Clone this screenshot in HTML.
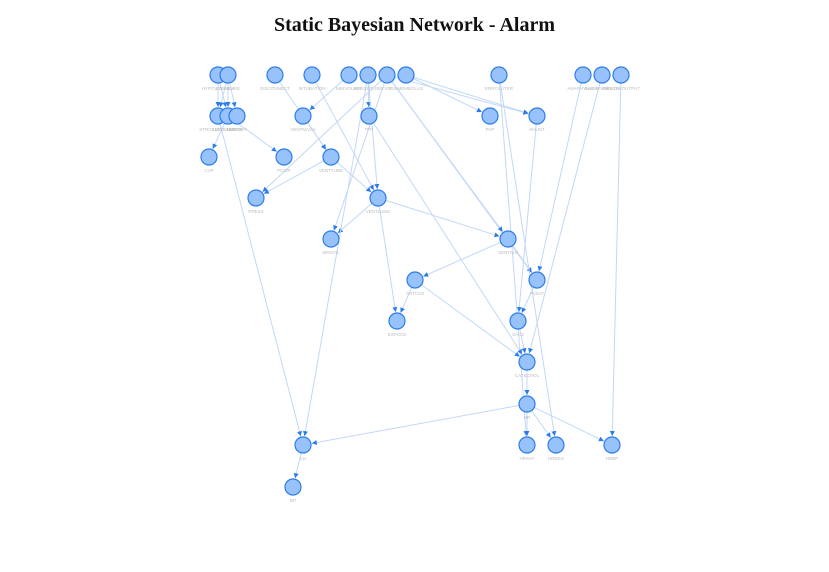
<!DOCTYPE html>
<html><head><meta charset="utf-8"><style>
body{margin:0;background:#fff;width:829px;height:572px;overflow:hidden}
h1{position:absolute;left:0;width:829px;top:14px;margin:0;text-align:center;font:bold 20px "Liberation Serif",serif;color:#111}
svg{position:absolute;left:0;top:0}
</style></head><body>
<h1>Static Bayesian Network - Alarm</h1>
<svg id="g" width="829" height="572">
<defs><marker id="ar" viewBox="0 0 10 10" refX="10" refY="5" markerWidth="5" markerHeight="5" orient="auto"><path d="M0,0L10,5L0,10z" fill="#2b7ce9"/></marker></defs>
</svg>
<script>
const nodeNames=["HYPOVOLEMIA","LVFAILURE","DISCONNECT","INTUBATION","MINVOLSET","KINKEDTUBE","FIO2","PULMEMBOLUS","ERRCAUTER","ANAPHYLAXIS","INSUFFANESTH","ERRLOWOUTPUT","STROKEVOLUME","LVEDVOLUME","HISTORY","VENTMACH","TPR","PAP","SHUNT","CVP","PCWP","VENTTUBE","PRESS","VENTLUNG","MINVOL","VENTALV","ARTCO2","PVSAT","EXPCO2","SAO2","CATECHOL","HR","CO","HRSAT","HREKG","HRBP","BP"];
const nodeX=[218,228,275,312,349,368,387,406,499,583,602,621,218,228,237,303,369,490,537,209,284,331,256,378,331,508,415,537,397,518,527,527,303,527,556,612,293];
const nodeY=[75,75,75,75,75,75,75,75,75,75,75,75,116,116,116,116,116,116,116,157,157,157,198,198,239,239,280,280,321,321,362,404,445,445,445,445,487];
const edgeFrom=["HYPOVOLEMIA","HYPOVOLEMIA","LVFAILURE","LVFAILURE","LVFAILURE","LVEDVOLUME","LVEDVOLUME","STROKEVOLUME","DISCONNECT","INTUBATION","MINVOLSET","VENTMACH","KINKEDTUBE","FIO2","FIO2","VENTTUBE","VENTTUBE","VENTLUNG","VENTLUNG","VENTLUNG","FIO2","VENTALV","VENTALV","ARTCO2","ARTCO2","PVSAT","SHUNT","KINKEDTUBE","KINKEDTUBE","PULMEMBOLUS","PULMEMBOLUS","FIO2","FIO2","ERRCAUTER","ERRCAUTER","ANAPHYLAXIS","INSUFFANESTH","ERRLOWOUTPUT","SAO2","CATECHOL","HR","HR","HR","HR","CO","TPR"];
const edgeTo=["STROKEVOLUME","LVEDVOLUME","STROKEVOLUME","HISTORY","LVEDVOLUME","CVP","PCWP","CO","VENTTUBE","VENTLUNG","VENTMACH","VENTTUBE","TPR","PRESS","PVSAT","VENTLUNG","PRESS","MINVOL","VENTALV","EXPCO2","MINVOL","ARTCO2","PVSAT","EXPCO2","CATECHOL","SAO2","SAO2","VENTLUNG","CO","PAP","SHUNT","SHUNT","VENTALV","HREKG","HRSAT","PVSAT","CATECHOL","HRBP","CATECHOL","HR","CO","HRSAT","HREKG","HRBP","BP","CATECHOL"];
const NS="http://www.w3.org/2000/svg",svg=document.getElementById('g'),R=8;
const idx=n=>nodeNames.indexOf(n);
const px=i=>nodeX[i],py=i=>nodeY[i];
edgeFrom.forEach((f,k)=>{const a=idx(f),b=idx(edgeTo[k]);const x1=px(a),y1=py(a),x2=px(b),y2=py(b);const d=Math.hypot(x2-x1,y2-y1)||1;
const l=document.createElementNS(NS,'line');
l.setAttribute('x1',x1+(x2-x1)/d*R);l.setAttribute('y1',y1+(y2-y1)/d*R);l.setAttribute('x2',x2-(x2-x1)/d*(R+1));l.setAttribute('y2',y2-(y2-y1)/d*(R+1));
l.setAttribute('stroke','#c2d8f7');l.setAttribute('stroke-width','1');l.setAttribute('marker-end','url(#ar)');


svg.appendChild(l);});
nodeNames.forEach((n,i)=>{const c=document.createElementNS(NS,'circle');
c.setAttribute('cx',px(i));c.setAttribute('cy',py(i));c.setAttribute('r',R);c.setAttribute('fill','#97c2fc');c.setAttribute('stroke','#2b7ce9');c.setAttribute('stroke-width','1.2');


svg.appendChild(c);
const t=document.createElementNS(NS,'text');t.textContent=n;t.setAttribute('x',px(i));t.setAttribute('y',py(i)+15);t.setAttribute('text-anchor','middle');t.setAttribute('font-size','4.5');t.setAttribute('font-family','Liberation Sans, sans-serif');t.setAttribute('fill','#bbb');


svg.appendChild(t);});
</script>
</body></html>
